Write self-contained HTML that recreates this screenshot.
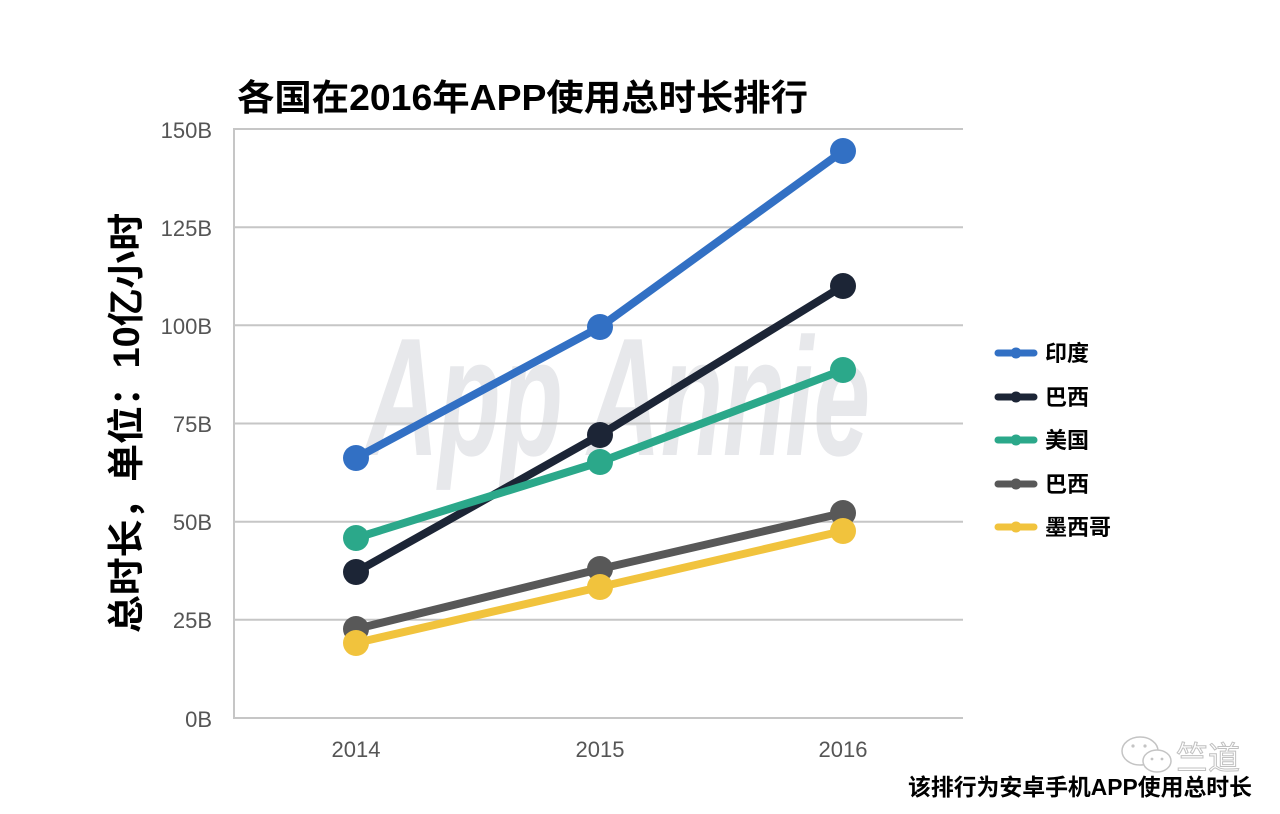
<!DOCTYPE html>
<html>
<head>
<meta charset="utf-8">
<style>
html,body{margin:0;padding:0;background:#fff;}
svg{display:block;}
</style>
</head>
<body>
<svg width="1280" height="814" viewBox="0 0 1280 814" xmlns="http://www.w3.org/2000/svg">
<rect x="0" y="0" width="1280" height="814" fill="#ffffff"/>

<!-- Title -->
<text x="237" y="110" font-family="'Liberation Sans','Noto Sans CJK SC',sans-serif" font-weight="bold" font-size="36" fill="#000" textLength="571" lengthAdjust="spacingAndGlyphs">各国在2016年APP使用总时长排行</text>

<!-- Watermark -->
<text x="365" y="455" font-family="'Liberation Sans',sans-serif" font-style="italic" font-weight="bold" font-size="168" fill="#e7e8eb" textLength="505" lengthAdjust="spacingAndGlyphs">App Annie</text>

<!-- Gridlines -->
<g stroke="#c6c6c6" stroke-width="2">
<line x1="234" y1="129" x2="963" y2="129"/>
<line x1="234" y1="227.2" x2="963" y2="227.2"/>
<line x1="234" y1="325.3" x2="963" y2="325.3"/>
<line x1="234" y1="423.5" x2="963" y2="423.5"/>
<line x1="234" y1="521.7" x2="963" y2="521.7"/>
<line x1="234" y1="619.8" x2="963" y2="619.8"/>
<line x1="234" y1="718" x2="963" y2="718"/>
<line x1="234" y1="128" x2="234" y2="719"/>
</g>

<!-- Y tick labels -->
<g font-family="'Liberation Sans',sans-serif" font-size="22" fill="#555" text-anchor="end">
<text x="212" y="138">150B</text>
<text x="212" y="236">125B</text>
<text x="212" y="334">100B</text>
<text x="212" y="432">75B</text>
<text x="212" y="530">50B</text>
<text x="212" y="628">25B</text>
<text x="212" y="727">0B</text>
</g>

<!-- X tick labels -->
<g font-family="'Liberation Sans',sans-serif" font-size="22" fill="#555" text-anchor="middle">
<text x="356" y="757">2014</text>
<text x="600" y="757">2015</text>
<text x="843" y="757">2016</text>
</g>

<!-- Y axis title -->
<g transform="translate(139,423) rotate(-90)">
<text x="0" y="0" text-anchor="middle" font-family="'Liberation Sans','Noto Sans CJK SC',sans-serif" font-weight="bold" font-size="37" fill="#000" textLength="420" lengthAdjust="spacingAndGlyphs">总时长，单位：10亿小时</text>
</g>

<!-- Series -->
<g stroke-width="8" stroke-linecap="round" stroke-linejoin="round" fill="none">
<polyline points="356,458 600,327 843,151" stroke="#3270c4"/>
</g>
<g fill="#3270c4"><circle cx="356" cy="458" r="13"/><circle cx="600" cy="327" r="13"/><circle cx="843" cy="151" r="13"/></g>

<g stroke-width="8" stroke-linecap="round" stroke-linejoin="round" fill="none">
<polyline points="356,572 600,435 843,286" stroke="#1c2536"/>
</g>
<g fill="#1c2536"><circle cx="356" cy="572" r="13"/><circle cx="600" cy="435" r="13"/><circle cx="843" cy="286" r="13"/></g>

<g stroke-width="8" stroke-linecap="round" stroke-linejoin="round" fill="none">
<polyline points="356,538 600,462 843,370" stroke="#2ba88a"/>
</g>
<g fill="#2ba88a"><circle cx="356" cy="538" r="13"/><circle cx="600" cy="462" r="13"/><circle cx="843" cy="370" r="13"/></g>

<g stroke-width="8" stroke-linecap="round" stroke-linejoin="round" fill="none">
<polyline points="356,629 600,569 843,513" stroke="#585858"/>
</g>
<g fill="#585858"><circle cx="356" cy="629" r="13"/><circle cx="600" cy="569" r="13"/><circle cx="843" cy="513" r="13"/></g>

<g stroke-width="8" stroke-linecap="round" stroke-linejoin="round" fill="none">
<polyline points="356,643 600,587 843,531" stroke="#f1c33d"/>
</g>
<g fill="#f1c33d"><circle cx="356" cy="643" r="13"/><circle cx="600" cy="587" r="13"/><circle cx="843" cy="531" r="13"/></g>

<!-- Legend -->
<g stroke-width="7" stroke-linecap="round">
<line x1="998" y1="353" x2="1034" y2="353" stroke="#3270c4"/>
<line x1="998" y1="397" x2="1034" y2="397" stroke="#1c2536"/>
<line x1="998" y1="440" x2="1034" y2="440" stroke="#2ba88a"/>
<line x1="998" y1="484" x2="1034" y2="484" stroke="#585858"/>
<line x1="998" y1="527" x2="1034" y2="527" stroke="#f1c33d"/>
</g>
<circle cx="1016" cy="353" r="5.5" fill="#3270c4"/>
<circle cx="1016" cy="397" r="5.5" fill="#1c2536"/>
<circle cx="1016" cy="440" r="5.5" fill="#2ba88a"/>
<circle cx="1016" cy="484" r="5.5" fill="#585858"/>
<circle cx="1016" cy="527" r="5.5" fill="#f1c33d"/>
<g font-family="'Liberation Sans','Noto Sans CJK SC',sans-serif" font-weight="bold" font-size="22" fill="#000">
<text x="1045" y="361">印度</text>
<text x="1045" y="405">巴西</text>
<text x="1045" y="448">美国</text>
<text x="1045" y="492">巴西</text>
<text x="1045" y="535">墨西哥</text>
</g>

<!-- WeChat watermark -->
<g fill="#fff" stroke="#c4c4c4" stroke-width="1.5">
<ellipse cx="1140" cy="751" rx="18" ry="14"/>
<ellipse cx="1157" cy="761" rx="14" ry="11"/>
</g>
<g fill="#c4c4c4">
<circle cx="1133" cy="746" r="1.6"/><circle cx="1145" cy="746" r="1.6"/>
<circle cx="1152" cy="759" r="1.4"/><circle cx="1162" cy="759" r="1.4"/>
</g>
<text x="1176" y="769" font-family="'Liberation Sans','Noto Sans CJK SC',sans-serif" font-size="32" fill="#fff" stroke="#c0c0c0" stroke-width="1">竺道</text>

<!-- Footnote -->
<text x="908" y="795" font-family="'Liberation Sans','Noto Sans CJK SC',sans-serif" font-weight="bold" font-size="23" fill="#000" textLength="344" lengthAdjust="spacingAndGlyphs">该排行为安卓手机APP使用总时长</text>
</svg>
</body>
</html>
